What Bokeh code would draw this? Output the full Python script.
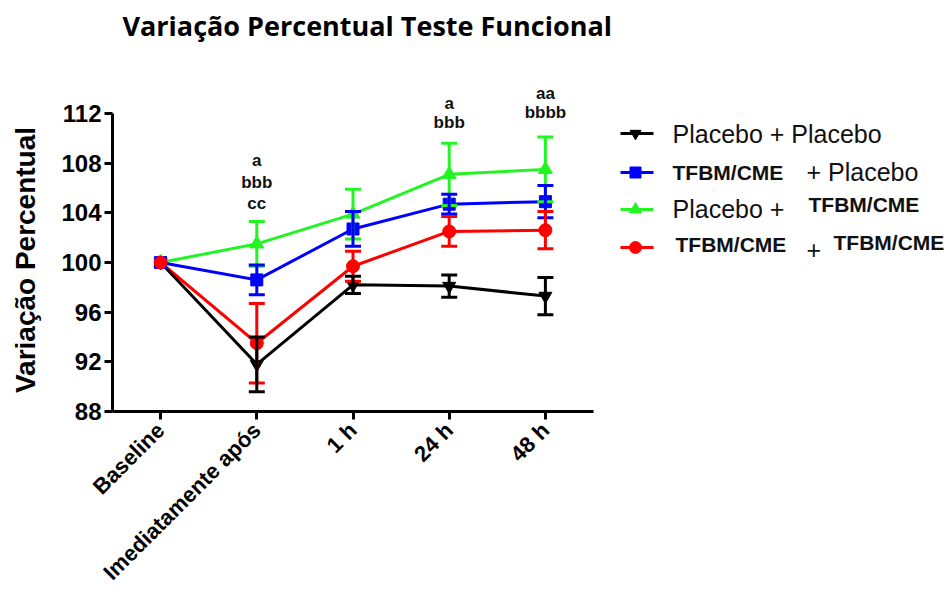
import math
from bokeh.plotting import figure
from bokeh.models import (ColumnDataSource, Whisker, TeeHead, FixedTicker, Range1d, LabelSet, Label)
from bokeh.layouts import row
from bokeh.embed import file_html
from bokeh.resources import INLINE
from bokeh.core.properties import value

# ---------------- data ----------------
categories = ["Baseline", "Imediatamente após", "1 h", "24 h", "48 h"]
y_ticks = [88, 92, 96, 100, 104, 108, 112]

placebo_placebo_mean = [100.0, 91.8, 98.2, 98.1, 97.3]
placebo_placebo_err = [0.0, 2.2, 0.7, 0.9, 1.5]
tfbm_placebo_mean = [100.0, 98.6, 102.7, 104.7, 104.9]
tfbm_placebo_err = [0.0, 1.2, 1.4, 0.8, 1.3]
placebo_tfbm_mean = [100.0, 101.5, 103.9, 107.1, 107.5]
placebo_tfbm_err = [0.0, 1.8, 2.0, 2.5, 2.6]
tfbm_tfbm_mean = [100.0, 93.5, 99.7, 102.5, 102.6]
tfbm_tfbm_err = [0.0, 3.2, 1.2, 1.2, 1.5]

annot_index = [1, 1, 1, 3, 3, 4, 4]
annot_text = ["a", "bbb", "cc", "a", "bbb", "aa", "bbbb"]
annot_y = [107.8, 106.0, 104.3, 112.4, 110.8, 113.2, 111.6]

title_text = "Variação Percentual Teste Funcional"
y_label_text = "Variação Percentual"

# ---------------- layout constants (page pixels) ----------------
xs = list(range(len(categories)))
BLACK, BLUE, GREEN, RED = "#000000", "#0000FF", "#22F522", "#FF0000"

H = 596
LABEL_W = 44          # narrow strip holding the y-axis title
MAIN_W = 576          # main plot (page x 44..620)
AXIS_X = 112          # page x of the y axis
FRAME_BOTTOM = 411    # page y of the x axis
TOP_TICK_Y = 113      # page y of the 112 tick
X_STEP = 96.2         # pixels between categories
px_per_unit = (FRAME_BOTTOM - TOP_TICK_Y) / (y_ticks[-1] - y_ticks[0])
y_top = y_ticks[-1] + TOP_TICK_Y / px_per_unit
x_end = -0.5 + (LABEL_W + MAIN_W - AXIS_X) / X_STEP

# ---------------- y label strip ----------------
yl = figure(width=LABEL_W, height=H, output_backend="svg", toolbar_location=None,
            x_range=Range1d(0, LABEL_W), y_range=Range1d(FRAME_BOTTOM, 0),
            x_axis_location=None, y_axis_location=None, min_border=0)
yl.outline_line_color = None
yl.grid.visible = False
yl.text(x=[25], y=[259.5], text=[y_label_text], angle=math.pi / 2,
        text_font=value("Liberation Sans"), text_font_style="bold", text_font_size="28px",
        text_align="center", text_baseline="middle", text_color="#000000")

# ---------------- main figure ----------------
p = figure(width=MAIN_W, height=H, output_backend="svg", toolbar_location=None,
           x_range=Range1d(-0.5, x_end), y_range=Range1d(y_ticks[0], y_top),
           min_border_left=AXIS_X - LABEL_W, min_border_right=0,
           min_border_top=0, min_border_bottom=H - FRAME_BOTTOM)
p.outline_line_color = None
p.grid.visible = False

p.add_layout(Label(x=10, y=FRAME_BOTTOM - 25, x_units="screen", y_units="screen",
                   text=title_text, text_font="Open Sans", text_font_style="bold",
                   text_font_size="27px", text_color="#000000",
                   text_align="left", text_baseline="middle"))

series = [
    (placebo_tfbm_mean, placebo_tfbm_err, GREEN, "triangle", 14),
    (tfbm_placebo_mean, tfbm_placebo_err, BLUE, "square", 12),
    (tfbm_tfbm_mean, tfbm_tfbm_err, RED, "circle", 13),
    (placebo_placebo_mean, placebo_placebo_err, BLACK, "inverted_triangle", 13),
]

for mean, err, col, mk, sz in series:
    p.line(xs, mean, line_color=col, line_width=3)
    ex = [x for x, e in zip(xs, err) if e > 0]
    em = [m for m, e in zip(mean, err) if e > 0]
    ee = [e for e in err if e > 0]
    src = ColumnDataSource(dict(x=ex, lo=[m - e for m, e in zip(em, ee)], hi=[m + e for m, e in zip(em, ee)]))
    w = Whisker(base="x", lower="lo", upper="hi", source=src, line_color=col, line_width=3,
                upper_head=TeeHead(size=16, line_color=col, line_width=3),
                lower_head=TeeHead(size=16, line_color=col, line_width=3))
    w.level = "glyph"
    p.add_layout(w)

marker_order = [series[3], series[0], series[1], series[2]]
for mean, err, col, mk, sz in marker_order:
    p.scatter(xs, mean, marker=mk, size=sz, fill_color=col, line_color=col)

ann = ColumnDataSource(dict(x=annot_index, y=annot_y, t=annot_text))
p.add_layout(LabelSet(x="x", y="y", text="t", source=ann, text_align="center",
                      text_baseline="alphabetic", text_font=value("Liberation Sans"),
                      text_font_style="bold", text_font_size="17px", text_color="#111111"))

for ax in (p.xaxis, p.yaxis):
    ax.axis_line_width = 3
    ax.major_tick_line_width = 3
    ax.major_tick_out = 8
    ax.major_tick_in = 0
    ax.minor_tick_line_color = None
    ax.major_label_text_font = "Liberation Sans"
    ax.major_label_text_font_style = "bold"
    ax.major_label_text_color = "#000000"

p.yaxis.bounds = (y_ticks[0], y_ticks[-1])
p.yaxis.ticker = FixedTicker(ticks=y_ticks)
p.yaxis.major_label_text_font_size = "24px"
p.yaxis.major_label_standoff = 3

p.xaxis.bounds = (-0.5, 4.5)
p.xaxis.ticker = FixedTicker(ticks=xs)
p.xaxis.major_label_overrides = {x: c for x, c in zip(xs, categories)}
p.xaxis.major_label_orientation = math.pi / 4
p.xaxis.major_label_text_font_size = "22px"
p.xaxis.major_label_standoff = 7

# ---------------- legend figure (coordinates in page pixels, x offset 600) ----------------
lf = figure(width=951 - LABEL_W - MAIN_W, height=H, output_backend="svg", toolbar_location=None,
            x_range=Range1d(LABEL_W + MAIN_W - 600, 351), y_range=Range1d(FRAME_BOTTOM, 0),
            x_axis_location=None, y_axis_location=None, min_border=0)
lf.outline_line_color = None
lf.grid.visible = False

leg_rows = [(133, BLACK, "inverted_triangle", 11), (172, BLUE, "square", 11),
            (209, GREEN, "triangle", 12), (247, RED, "circle", 12)]
for yy, col, mk, sz in leg_rows:
    lf.line([17, 53], [yy, yy], line_color=col, line_width=3)
    lf.scatter([35], [yy], marker=mk, size=sz, fill_color=col, line_color=col)

lf.text(x=[72, 206, 72, 206], y=[133, 171, 208, 249],
        text=["Placebo + Placebo", "+ Placebo", "Placebo +", "+"],
        text_font=value("Liberation Sans"), text_font_size="25px",
        text_baseline="middle", text_color="#111111")
lf.text(x=[72, 208, 75, 233], y=[172, 204, 244, 242],
        text=["TFBM/CME", "TFBM/CME", "TFBM/CME", "TFBM/CME"],
        text_font=value("Liberation Sans"), text_font_style="bold", text_font_size="21px",
        text_baseline="middle", text_color="#111111")

layout = row(yl, p, lf)
open("out.html", "w").write(file_html(layout, INLINE))
